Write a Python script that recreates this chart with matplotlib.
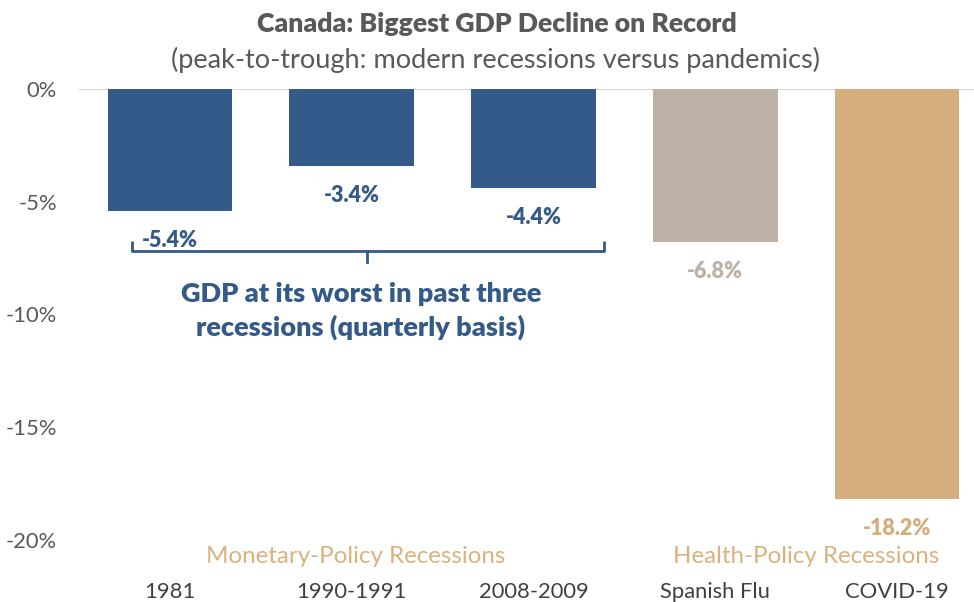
import matplotlib
matplotlib.use("Agg")
import matplotlib.pyplot as plt
from matplotlib.ticker import FuncFormatter

plt.rcParams['font.family'] = ['Lato', 'DejaVu Sans']

# Data
categories = ["1981", "1990-1991", "2008-2009", "Spanish Flu", "COVID-19"]
gdp_decline = [-5.4, -3.4, -4.4, -6.8, -18.2]
bar_colors = ["#335A89", "#335A89", "#335A89", "#BCB1A4", "#D4AE7C"]
label_colors = ["#335A89", "#335A89", "#335A89", "#BCB1A4", "#D4AE7C"]
y_ticks = [0, -5, -10, -15, -20]
group_labels = ["Monetary-Policy Recessions", "Health-Policy Recessions"]
title = "Canada: Biggest GDP Decline on Record"
subtitle = "(peak-to-trough: modern recessions versus pandemics)"
bracket_note = "GDP at its worst in past three\nrecessions (quarterly basis)"

W, H = 974, 602
fig = plt.figure(figsize=(W / 100, H / 100), dpi=100)

def fx(px):
    return px / W

def fy(py):
    return 1 - py / H

left, right, top, bottom = 79, 988, 89.3, 539.6
ax = fig.add_axes([fx(left), fy(bottom), fx(right - left), (bottom - top) / H])

x = range(len(categories))
bars = ax.bar(x, gdp_decline, width=0.685, color=bar_colors, zorder=2)

ax.set_xlim(-0.5, len(categories) - 0.5)
ax.set_ylim(-20, 0)
ax.set_yticks(y_ticks)
ax.yaxis.set_major_formatter(FuncFormatter(lambda v, p: f"{v:.0f}%"))
ax.tick_params(axis='y', length=0, pad=16, labelsize=15.8, labelcolor="#595959")
ax.set_xticks([])
for s in ax.spines.values():
    s.set_visible(False)
ax.axhline(0, color="#D9D9D9", lw=1.6, zorder=1)

BOLD = "heavy"

# Value labels under each bar
for xi, val, col in zip(x, gdp_decline, label_colors):
    ax.annotate(f"{val:.1f}%", xy=(xi, val), xytext=(0, -21),
                textcoords="offset points", ha="center", va="center",
                fontsize=15.5, fontweight=BOLD, color=col)

# Category labels along the bottom
for xi, cat in zip(x, categories):
    ax.annotate(cat, xy=(xi, 0), xycoords=("data", "axes fraction"),
                xytext=(0, -37.5), textcoords="offset points",
                ha="center", va="center", fontsize=15.8, color="#404040")

# Group labels
grp_color = "#D9B27E"
ax.annotate(group_labels[0], xy=(1.02, 0), xycoords=("data", "axes fraction"),
            xytext=(0, -12), textcoords="offset points",
            ha="center", va="center", fontsize=17.4, color=grp_color)
ax.annotate(group_labels[1], xy=(3.5, 0), xycoords=("data", "axes fraction"),
            xytext=(0, -12), textcoords="offset points",
            ha="center", va="center", fontsize=17.4, color=grp_color)

# Bracket under the three modern recessions
bc = "#335A89"
bx0, bx1, bxc = -0.21, 2.39, 1.085
by, by_top, by_tip = -7.19, -6.74, -7.68
ax.plot([bx0, bx0, bx1, bx1], [by_top, by, by, by_top], color=bc, lw=2,
        solid_joinstyle="round", solid_capstyle="butt", zorder=3)
ax.plot([bxc, bxc], [by, by_tip], color=bc, lw=2, zorder=3)
ax.text(1.05, -9.85, bracket_note, ha="center", va="center", fontsize=19.5,
        fontweight=BOLD, color=bc, linespacing=1.38)

# Titles
fig.text(fx(496.5), fy(24), title, ha="center", va="center", fontsize=19.2,
         fontweight=BOLD, color="#595959")
fig.text(fx(495.5), fy(60), subtitle, ha="center", va="center", fontsize=19.5,
         color="#595959")

fig.savefig("out.png", dpi=100)
